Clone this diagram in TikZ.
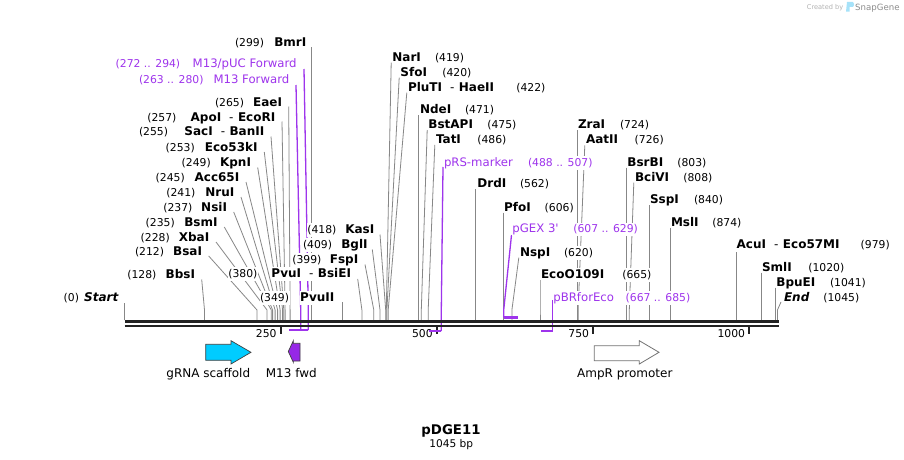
\documentclass[tikz,border=0pt]{standalone}
\usepackage{fontspec}
\setmainfont{DejaVu Sans}
\definecolor{pcol}{RGB}{158,52,236}
\definecolor{ldrc}{RGB}{135,135,135}
\definecolor{bbc}{RGB}{34,34,34}
\definecolor{gcyan}{RGB}{0,204,255}
\definecolor{mfill}{RGB}{150,40,230}
\tikzset{
  nmtext/.style={font=\fontsize{12}{14}\selectfont\bfseries, fill=white, inner xsep=0.5pt, inner ysep=1pt, text height=9pt, text depth=2.5pt},
  numtext/.style={font=\fontsize{10.8}{13}\selectfont, fill=white, inner xsep=0.5pt, inner ysep=1pt, text height=9pt, text depth=2.5pt},
  prtext/.style={font=\fontsize{11.7}{14}\selectfont, text=pcol, fill=white, inner xsep=0.5pt, inner ysep=1pt, text height=9pt, text depth=2.5pt},
  prnum/.style={numtext, text=pcol},
  leader/.style={draw=ldrc, line width=0.8pt},
  primer/.style={draw=pcol, line width=1.3pt},
  bracket/.style={draw=pcol, line width=2.2pt},
  backbone/.style={draw=bbc, line width=2.7pt},
  tickmark/.style={draw=bbc, line width=1.8pt},
  ticktext/.style={font=\fontsize{10.8}{13}\selectfont, inner sep=0pt, anchor=base east},
  featlbl/.style={font=\fontsize{12}{14}\selectfont, inner sep=0pt, anchor=base},
}
\newcommand\hy{\hspace{8pt}\textmd{-}\hspace{4.5pt}}
% left-side label: id, name, number, name right x, number left x, y centre
\newcommand\EnzL[6]{%
  \node[numtext, anchor=base west] (#1n) at (#5,#6+4.3) {#3};
  \node[nmtext, anchor=base east] (#1) at (#4,#6+4.3) {#2};}
% right-side label: id, name, number, name left x, number left x, y centre
\newcommand\EnzR[6]{%
  \node[nmtext, anchor=base west] (#1) at (#4,#6+4.3) {#2};
  \node[numtext, anchor=base west] (#1n) at (#5,#6+4.3) {#3};}
% leader: id, start x, start y, site x
\newcommand\Lead[4]{%
  \coordinate (#1a) at (#2,#3);
  \coordinate (#1b) at (#4,310);
  \coordinate (#1c) at (#4,320);
  \draw[leader] (#1a) -- (#1b) -- (#1c);}
\begin{document}
\begin{tikzpicture}[x=1pt,y=-1pt]
\useasboundingbox (0,0) rectangle (904,460);
\fill[white] (0,0) rectangle (904,460);

% ---------- leader lines ----------
\Lead{Start}{124.5}{303}{124.5}
\Lead{BbsI}{201.7}{279.5}{204.5}
\Lead{BsaI}{208.7}{256}{257.0}
\Lead{XbaI}{216}{242}{267.0}
\Lead{BsmI}{224.3}{227}{271.3}
\Lead{NsiI}{233.7}{212}{272.6}
\Lead{NruI}{241}{197}{275.1}
\Lead{Acc65I}{246}{182}{277.6}
\Lead{KpnI}{257.7}{167.5}{280.1}
\Lead{Eco53kI}{264.3}{152}{282.6}
\Lead{SacI}{271}{136.5}{283.8}
\Lead{ApoI}{282}{121.5}{285.1}
\Lead{EaeI}{288.7}{106.5}{290.1}
\Lead{BmrI}{311.3}{47.5}{311.3}
\Lead{PvuII}{342.6}{302}{342.6}
\Lead{PvuI}{357.7}{279}{361.9}
\Lead{FspI}{365}{264.5}{373.8}
\Lead{BglI}{372.3}{249.5}{380.0}
\Lead{KasI}{380}{234.5}{385.7}
\Lead{NarI}{391.2}{62.7}{386.3}
\Lead{SfoI}{399.2}{77.7}{386.9}
\Lead{PluTI}{406.8}{92.7}{388.2}
\Lead{NdeI}{418.8}{115}{418.8}
\Lead{BstAPI}{427.2}{130}{421.3}
\Lead{TatI}{434.8}{145}{428.2}
\Lead{DrdI}{475.6}{189.3}{475.6}
\Lead{PfoI}{503.1}{212.7}{503.1}
\Lead{NspI}{518.8}{257.7}{511.9}
\Lead{EcoO}{540}{280}{540.0}
\Lead{ZraI}{576.9}{130}{576.9}
\Lead{AatII}{584.8}{145.3}{578.1}
\Lead{BsrBI}{626.2}{167.7}{626.2}
\Lead{BciVI}{633.8}{182.7}{629.3}
\Lead{SspI}{649.3}{205.3}{649.3}
\Lead{MslI}{670.6}{227.7}{670.6}
\Lead{AcuI}{736.2}{250}{736.2}
\Lead{SmlI}{761.8}{272.7}{761.8}
\Lead{BpuEI}{774.9}{287.7}{774.9}
\Lead{End}{781}{302}{777.4}

% ---------- primer leaders and brackets ----------
\coordinate (pucA) at (304,69);    \coordinate (pucB) at (308.3,310);
\coordinate (pucC) at (308.3,330); \coordinate (pucD) at (294.4,330);
\coordinate (m13A) at (296,85);    \coordinate (m13B) at (300.7,310);
\coordinate (m13C) at (300.7,330); \coordinate (m13D) at (288.8,330);
\coordinate (prsA) at (443,167);   \coordinate (prsB) at (441.3,310);
\coordinate (prsC) at (441.3,331); \coordinate (prsD) at (429.4,331);
\coordinate (gexA) at (511.5,235); \coordinate (gexB) at (503.7,310);
\coordinate (gexC) at (503.7,317.5); \coordinate (gexD) at (517.5,317.5);
\coordinate (pbrA) at (552.5,300); \coordinate (pbrC) at (552.5,331);
\coordinate (pbrD) at (541.2,331);
\draw[primer] (pucA) -- (pucB) -- (pucC);
\draw[primer] (m13A) -- (m13B) -- (m13C);
\draw[primer] (prsA) -- (prsB) -- (prsC);
\draw[primer] (gexA) -- (gexB) -- (gexC);
\draw[primer] (pbrA) -- (pbrC);

% ---------- ticks ----------
\foreach \tx/\tl in {280.7/250, 436.9/500, 593.2/750, 749.3/1000}{
  \draw[tickmark] (\tx,327) -- (\tx,334);
  \node[ticktext] (t\tl) at (\tx-4,337) {\tl};
}
\draw[bracket] (m13D) -- (m13C);
\draw[bracket] (pucD) -- (pucC);
\draw[bracket] (prsD) -- (prsC);
\draw[bracket] (gexC) -- (gexD);
\draw[bracket] (pbrD) -- (pbrC);

% ---------- backbone ----------
\coordinate (bbL1) at (124.5,321.3); \coordinate (bbR1) at (778.5,321.3);
\coordinate (bbL2) at (124.5,326);   \coordinate (bbR2) at (778.5,326);
\draw[backbone] (bbL1) -- (bbR1);
\draw[backbone, line width=2.5pt] (bbL2) -- (bbR2);

% ---------- left labels ----------
\EnzL{BmrI}{BmrI}{(299)}{307}{234.3}{42}
\EnzL{EaeI}{EaeI}{(265)}{282.7}{214.3}{101.7}
\EnzL{ApoI}{ApoI\hy EcoRI}{(257)}{276}{146.7}{117}
\EnzL{SacI}{SacI\hy BanII}{(255)}{265}{138.3}{131}
\EnzL{Eco53kI}{Eco53kI}{(253)}{258.3}{165}{146.7}
\EnzL{KpnI}{KpnI}{(249)}{251.7}{181}{161.7}
\EnzL{Acc65I}{Acc65I}{(245)}{240}{155}{176.7}
\EnzL{NruI}{NruI}{(241)}{235}{165.7}{191.7}
\EnzL{NsiI}{NsiI}{(237)}{227.7}{162.7}{206.7}
\EnzL{BsmI}{BsmI}{(235)}{218.3}{145}{221.7}
\EnzL{XbaI}{XbaI}{(228)}{210}{140}{236.7}
\EnzL{BsaI}{BsaI}{(212)}{202.7}{134.3}{251}
\EnzL{BbsI}{BbsI}{(128)}{195.7}{126.7}{274}
\EnzL{KasI}{KasI}{(418)}{375}{306.7}{229}
\EnzL{BglI}{BglI}{(409)}{368.3}{302.3}{244}
\EnzL{FspI}{FspI}{(399)}{359}{291.7}{259}
\EnzL{PvuI}{PvuI\hy BsiEI}{(380)}{351.7}{227.7}{273}
\EnzL{PvuII}{PvuII}{(349)}{335}{259.3}{296.7}
\EnzL{Start}{\itshape Start}{(0)}{119}{63}{297}

% ---------- right labels ----------
\EnzR{NarI}{NarI}{(419)}{391.7}{434.3}{56.7}
\EnzR{SfoI}{SfoI}{(420)}{399.7}{441.7}{71.7}
\EnzR{PluTI}{PluTI\hy HaeII}{(422)}{407.3}{515.7}{86.7}
\EnzR{NdeI}{NdeI}{(471)}{419.3}{464.3}{109}
\EnzR{BstAPI}{BstAPI}{(475)}{427.7}{486.7}{124}
\EnzR{TatI}{TatI}{(486)}{435.3}{476.7}{139}
\EnzR{DrdI}{DrdI}{(562)}{476.7}{519.3}{183.3}
\EnzR{PfoI}{PfoI}{(606)}{503.3}{544}{206.7}
\EnzR{NspI}{NspI}{(620)}{519.3}{563.3}{251.7}
\EnzR{EcoO}{EcoO109I}{(665)}{540.3}{621.7}{274}
\EnzR{ZraI}{ZraI}{(724)}{577.3}{619.3}{124}
\EnzR{AatII}{AatII}{(726)}{585.3}{634}{139.3}
\EnzR{BsrBI}{BsrBI}{(803)}{626.7}{676.7}{161.7}
\EnzR{BciVI}{BciVI}{(808)}{634.3}{682.7}{176.7}
\EnzR{SspI}{SspI}{(840)}{649.3}{693.3}{199.3}
\EnzR{MslI}{MslI}{(874)}{670.3}{711.7}{221.7}
\EnzR{AcuI}{AcuI\hy Eco57MI}{(979)}{736}{860}{244}
\EnzR{SmlI}{SmlI}{(1020)}{761.3}{807.7}{266.7}
\EnzR{BpuEI}{BpuEI}{(1041)}{775.7}{829.3}{281.7}
\EnzR{End}{\itshape End}{(1045)}{783.3}{822.7}{296.7}

% ---------- primer labels ----------
\node[prnum, anchor=base west] (pucN) at (115,67.6) {(272 .. 294)};
\node[prtext, anchor=base east] (puc) at (297.3,67.6) {M13/pUC Forward};
\node[prnum, anchor=base west] (m13N) at (138.3,83.3) {(263 .. 280)};
\node[prtext, anchor=base east] (m13) at (290,83.3) {M13 Forward};
\node[prtext, anchor=base west] (prs) at (443.3,166) {pRS-marker};
\node[prnum, anchor=base west] (prsN) at (527.3,166) {(488 .. 507)};
\node[prtext, anchor=base west] (gex) at (511.7,232.6) {pGEX 3\textquotesingle};
\node[prnum, anchor=base west] (gexN) at (572.7,232.6) {(607 .. 629)};
\node[prtext, anchor=base west] (pbr) at (552.7,301) {pBRforEco};
\node[prnum, anchor=base west] (pbrN) at (625,301) {(667 .. 685)};

% ---------- features ----------
\draw[fill=gcyan, draw=black!75, line width=0.7pt]
  (205.7,344.3) -- (231,344.3) -- (231,340.7) -- (251,352.3) -- (231,364)
  -- (231,360.3) -- (205.7,360.3) -- cycle;
\draw[fill=mfill, draw=black!75, line width=0.7pt]
  (288.3,351.5) -- (293.3,340.7) -- (293.3,343.3) -- (300,343.3) -- (300,361)
  -- (293.3,361) -- (293.3,362.3) -- cycle;
\draw[fill=white, draw=black!55, line width=0.8pt]
  (594.3,345.7) -- (639.3,345.7) -- (639.3,340.7) -- (659,352.3) -- (639.3,364)
  -- (639.3,360.7) -- (594.3,360.7) -- cycle;
\node[featlbl] (fg) at (208.3,377.3) {gRNA scaffold};
\node[featlbl] (fm) at (291.3,377.3) {M13 fwd};
\node[featlbl] (fa) at (624.8,377.6) {AmpR promoter};

% ---------- title ----------
\node[font=\fontsize{13.3}{15}\selectfont\bfseries, inner sep=0pt, anchor=base] (title) at (451,434) {pDGE11};
\node[font=\fontsize{10.6}{13}\selectfont, inner sep=0pt, anchor=base] (size) at (451.3,447) {1045 bp};

% ---------- watermark ----------
\node[font=\fontsize{6.6}{8}\selectfont, text=black!30, inner sep=0pt, anchor=base west] (wm1) at (806.7,9.5) {Created by};
\fill[cyan!35!white] (847,2) -- (852.5,2) .. controls (854.5,2) and (854.5,7) .. (852.5,7) -- (849.5,7) -- (849.5,11.7) -- (846,11.7) -- cycle;
\node[font=\fontsize{8.6}{10}\selectfont, text=black!45, inner sep=0pt, anchor=base west] (wm2) at (855,10.5) {SnapGene};
\end{tikzpicture}
\end{document}
